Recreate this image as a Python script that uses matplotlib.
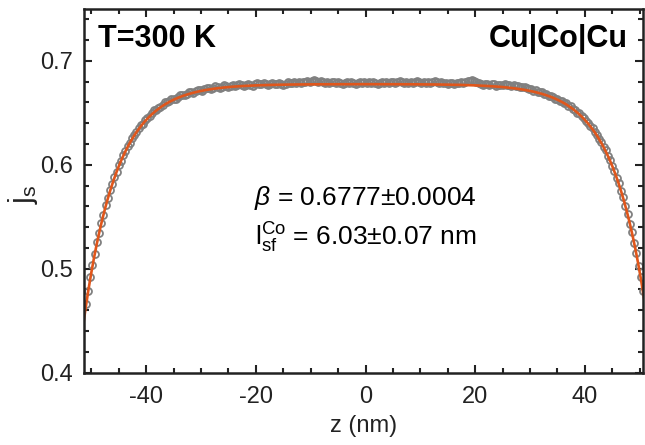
import numpy as np
import matplotlib
matplotlib.use("Agg")
import matplotlib.pyplot as plt
from matplotlib.ticker import MultipleLocator, FormatStrFormatter

plt.rcParams['font.family'] = ['Liberation Sans', 'DejaVu Sans']
plt.rcParams['mathtext.fontset'] = 'custom'
plt.rcParams['mathtext.rm'] = 'Liberation Sans'
plt.rcParams['mathtext.it'] = 'Liberation Sans:italic'
plt.rcParams['mathtext.bf'] = 'Liberation Sans:bold'
plt.rcParams['axes.unicode_minus'] = False

# spin-current profile sampled across the Co layer (z in nm)
z_start = -51.0
z_step = 0.4
js_data = [
    0.4660, 0.4787, 0.4916, 0.5036, 0.5138, 0.5253, 0.5342, 0.5444, 0.5520, 0.5611,
    0.5676, 0.5757, 0.5813, 0.5885, 0.5933, 0.5997, 0.6038, 0.6095, 0.6129, 0.6181,
    0.6210, 0.6256, 0.6290, 0.6312, 0.6352, 0.6380, 0.6396, 0.6430, 0.6453, 0.6465,
    0.6495, 0.6523, 0.6531, 0.6547, 0.6553, 0.6577, 0.6601, 0.6603, 0.6615, 0.6636,
    0.6636, 0.6636, 0.6655, 0.6674, 0.6672, 0.6669, 0.6686, 0.6702, 0.6698, 0.6694,
    0.6709, 0.6724, 0.6719, 0.6713, 0.6727, 0.6741, 0.6735, 0.6728, 0.6741, 0.6754,
    0.6747, 0.6740, 0.6752, 0.6764, 0.6756, 0.6748, 0.6760, 0.6772, 0.6763, 0.6765,
    0.6776, 0.6768, 0.6759, 0.6770, 0.6781, 0.6772, 0.6763, 0.6774, 0.6785, 0.6776,
    0.6777, 0.6787, 0.6778, 0.6769, 0.6779, 0.6790, 0.6780, 0.6781, 0.6791, 0.6782,
    0.6772, 0.6782, 0.6793, 0.6783, 0.6783, 0.6794, 0.6784, 0.6794, 0.6784, 0.6794,
    0.6795, 0.6805, 0.6795, 0.6805, 0.6815, 0.6805, 0.6795, 0.6806, 0.6796, 0.6786,
    0.6796, 0.6786, 0.6796, 0.6796, 0.6786, 0.6796, 0.6786, 0.6776, 0.6786, 0.6796,
    0.6786, 0.6796, 0.6786, 0.6776, 0.6786, 0.6796, 0.6786, 0.6796,
    0.6786, 0.6796, 0.6786, 0.6796, 0.6786, 0.6776, 0.6786, 0.6796, 0.6786, 0.6796,
    0.6786, 0.6796, 0.6796, 0.6786, 0.6796, 0.6806, 0.6796, 0.6786, 0.6796, 0.6786,
    0.6796, 0.6785, 0.6795, 0.6805, 0.6795, 0.6785, 0.6795, 0.6785, 0.6794, 0.6784,
    0.6794, 0.6804, 0.6794, 0.6783, 0.6793, 0.6783, 0.6792, 0.6782, 0.6792, 0.6791,
    0.6781, 0.6790, 0.6790, 0.6799, 0.6789, 0.6798, 0.6807, 0.6807, 0.6816, 0.6805,
    0.6794, 0.6783, 0.6782, 0.6771, 0.6780, 0.6779, 0.6768, 0.6776, 0.6775, 0.6763,
    0.6772, 0.6770, 0.6768, 0.6776, 0.6764, 0.6772, 0.6760, 0.6767, 0.6754, 0.6761,
    0.6748, 0.6745, 0.6751, 0.6737, 0.6733, 0.6729, 0.6714, 0.6719, 0.6704, 0.6698,
    0.6702, 0.6686, 0.6679, 0.6662, 0.6664, 0.6655, 0.6636, 0.6636, 0.6616, 0.6615,
    0.6593, 0.6591, 0.6567, 0.6563, 0.6537, 0.6531, 0.6503, 0.6495, 0.6465, 0.6453,
    0.6420, 0.6406, 0.6370, 0.6352, 0.6312, 0.6290, 0.6246, 0.6220, 0.6171, 0.6139,
    0.6085, 0.6048, 0.5987, 0.5943, 0.5875, 0.5823, 0.5747, 0.5686, 0.5601, 0.5530,
    0.5434, 0.5352, 0.5243, 0.5148, 0.5026, 0.4916, 0.4787,
]
z_data = np.round(z_start + z_step * np.arange(len(js_data)), 2)

# fit parameters
beta = 0.6777
beta_err = 0.0004
l_sf = 6.03
l_sf_err = 0.07
half_thickness = 51.0
j_interface = 0.464

z_fit = np.linspace(-51.6, 51.0, 800)
j_fit = beta - (beta - j_interface) * np.cosh(z_fit / l_sf) / np.cosh(half_thickness / l_sf)

fig = plt.figure(figsize=(6.45, 4.45), dpi=100)
ax = fig.add_axes([84 / 645, 1 - 372.5 / 445, (643 - 84) / 645, (372.5 - 9) / 445])

ax.plot(z_data, js_data, linestyle='none', marker='o', markersize=5.0,
        markerfacecolor='none', markeredgecolor='#808080', markeredgewidth=1.3)
ax.plot(z_fit, j_fit, color='#e0561b', linewidth=1.9)

ax.set_xlim(-51.35, 50.6)
ax.set_ylim(0.4, 0.75)
ax.xaxis.set_major_locator(MultipleLocator(20))
ax.xaxis.set_minor_locator(MultipleLocator(5))
ax.yaxis.set_major_locator(MultipleLocator(0.1))
ax.yaxis.set_minor_locator(MultipleLocator(0.02))
ax.yaxis.set_major_formatter(FormatStrFormatter('%.1f'))

dark = '#222222'
for sp in ax.spines.values():
    sp.set_linewidth(1.8)
    sp.set_color(dark)
ax.tick_params(which='both', direction='in', top=True, right=True,
               colors=dark, labelsize=17, width=1.5)
ax.tick_params(which='major', length=6)
ax.tick_params(axis='x', which='major', pad=10)
ax.tick_params(axis='y', which='major', pad=8)
ax.tick_params(which='minor', length=3.3)

ax.set_xlabel('z (nm)', fontsize=17, color=dark, labelpad=5)
ax.set_ylabel(r'j$_{\rm s}$', fontsize=22, color=dark)
ax.yaxis.set_label_coords(-0.078, 0.49)

ax.text(0.025, 0.96, 'T=300 K', transform=ax.transAxes, fontsize=22,
        fontweight='bold', ha='left', va='top', color='black')
ax.text(0.972, 0.96, 'Cu|Co|Cu', transform=ax.transAxes, fontsize=22,
        fontweight='bold', ha='right', va='top', color='black')

ax.text(0.0, 0.568, r'$\it{\beta}$' + f' = {beta:.4f}' + r'$\pm$' + f'{beta_err:.4f}',
        fontsize=19, ha='center', va='center', color='black')
ax.text(0.0, 0.530, r'l$_{\rm sf}^{\rm Co}$' + f' = {l_sf:.2f}' + r'$\pm$' + f'{l_sf_err:.2f} nm',
        fontsize=19, ha='center', va='center', color='black')

fig.savefig('out.png', dpi=100)
